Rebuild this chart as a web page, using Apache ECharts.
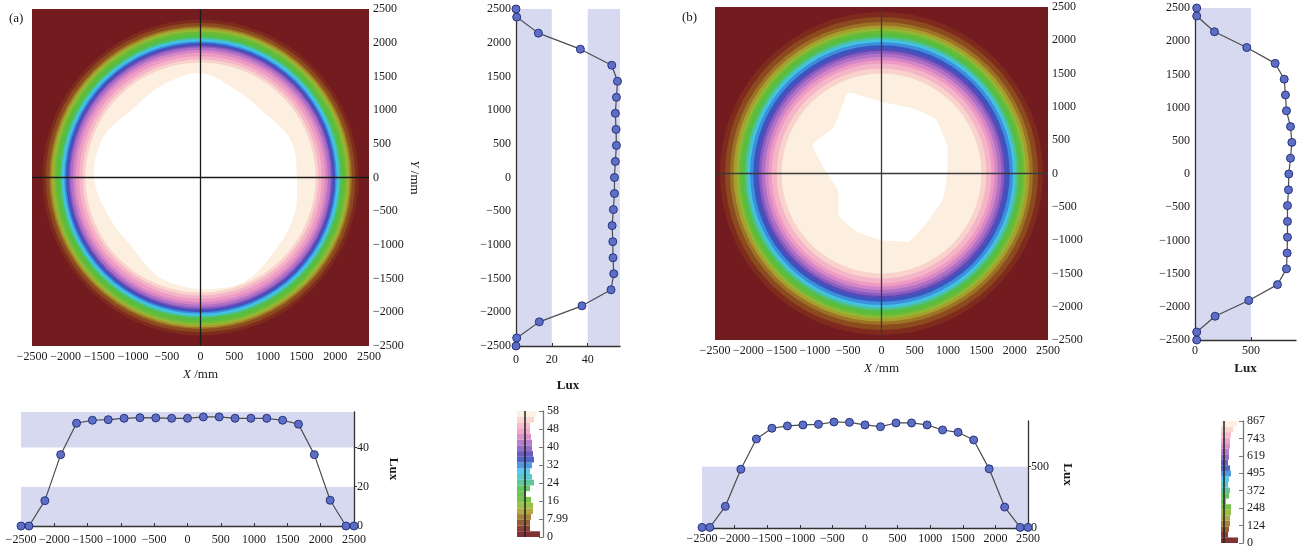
<!DOCTYPE html>
<html><head><meta charset="utf-8">
<script src="https://cdn.jsdelivr.net/npm/echarts@6/dist/echarts.min.js"></script>
<style>html,body{margin:0;padding:0;background:#fff}#c{width:1298px;height:555px}</style>
</head><body><div id="c"></div>
<script>
// ---------- data ----------
const positions = [-2500,-2380,-2142,-1904,-1666,-1428,-1190,-952,-714,-476,-238,0,238,476,714,952,1190,1428,1666,1904,2142,2380,2500];
// (a) profile along X (bottom chart), Lux
const hProfileA = [0,0,12.9,36.3,52.3,53.8,54.1,54.8,55.1,55.0,54.8,54.8,55.5,55.5,54.8,54.8,54.8,53.8,51.8,36.3,13.1,0,0];
// (a) profile along Y (right chart), Lux, Y ascending
const vProfileA = [0,0.4,13.0,36.8,53.0,54.5,54.1,54.0,53.6,54.3,54.9,54.9,55.4,56.0,55.8,55.4,56.0,56.6,53.4,35.9,12.5,0.4,0];
// (b)
const hProfileB = [5,5,176,478,724,811,830,838,843,862,859,838,824,854,854,838,797,778,716,481,170,5,5];
const vProfileB = [15,15,179,479,735,815,821,824,824,824,833,836,851,863,851,815,806,795,714,461,173,15,15];

// colour-bar tick labels and histogram lengths (bottom level -> top level)
const cbLabelsA = ['0','7.99','16','24','32','40','48','58'];
const cbLabelsB = ['0','124','248','372','495','619','743','867'];
const cbCountsA = [23,13,13,14,16,16,14,9,13,17,15,13,15,17,16,15,15,14,13,13,17,19];
const cbCountsB = [17,7,8,9,9,10,10,5,8,9,7,8,10,9,7,8,8,9,9,10,12,16];

// contour radii (mm) where each illuminance level begins (level 1 .. 21)
const ringRadiiA = [2345,2296,2247,2222,2196,2166,2137,2107,2078,2063,2048,2023,1998,1974,1950,1929,1890,1850,1800,1750,1707];
const ringRadiiB = [2425,2350,2275,2223,2177,2145,2113,2082,2050,2024,2000,1975,1925,1875,1840,1800,1750,1700,1650,1575,1500];
// outline of the brightest (white) zone: radius (mm) at each direction (deg)
const blobAngles = [0,22.5,45,67.5,90,112.5,135,157.5,180,202.5,225,247.5,270,292.5,315,337.5];
const whiteRadiiA = [1430,1450,1350,1400,1550,1480,1430,1560,1580,1480,1450,1600,1650,1680,1550,1500];
const whiteRadiiB = [986,1070,1150,1075,1075,1310,1000,1120,815,700,900,950,1000,1100,1000,1000];

// ---------- styles ----------
const palette = ['#721c1f','#7e2b1d','#8b4b1f','#9c7326','#a79e2d','#90b935','#6dbb38','#5bbd3c','#52bf4c','#4fc190','#48c1c4','#41c4ea','#3d8edb','#3b55c0','#5c4ab6','#8a5ec0','#b070c6','#d586c7','#ee9bc4','#f5b5c8','#f9d2cc','#fcefe0'];
const F = 'Liberation Serif';
const TXT = '#1a1a1a';
const LAV = '#d6d9ef';
const minus = v => String(v).replace('-', '\u2212');
const lbl = (extra) => Object.assign({color: TXT, fontFamily: F, fontSize: 12, formatter: minus}, extra || {});
const axLine = {show:true, onZero:false, lineStyle:{color:'#333', width:1.3}};

function heatX(grid, nameGap){
  return {gridIndex: grid, type:'value', min:-2500, max:2500, interval:500,
    axisLine:{show:false, onZero:false}, axisTick:{show:false}, splitLine:{show:false},
    axisLabel: lbl({margin:5}),
    name:'{i|X} /mm', nameLocation:'middle', nameGap: nameGap,
    nameTextStyle:{color:TXT, fontFamily:F, fontSize:13, rich:{i:{fontStyle:'italic', fontFamily:F, fontSize:13, color:TXT}}}};
}
function heatY(grid, pad){
  return {gridIndex: grid, type:'value', position:'right', min:-2500, max:2500, interval:500,
    axisLine:{show:false, onZero:false}, axisTick:{show:false}, splitLine:{show:false},
    axisLabel: lbl({margin:4}),
    name:'{i|Y} /mm', nameLocation:'middle', nameGap: 44, nameRotate: -90,
    nameTextStyle:{color:TXT, fontFamily:F, fontSize:13, padding:pad, rich:{i:{fontStyle:'italic', fontFamily:F, fontSize:13, color:TXT}}}};
}
function ringSeries(xi, yi, radii){
  return {type:'custom', xAxisIndex:xi, yAxisIndex:yi, silent:true, clip:true, z:1,
    data: radii.map((r,i)=>[i+1, r]),
    renderItem:(p, api)=>{
      const lvl = api.value(0), r = api.value(1);
      const c = api.coord([0,0]), e = api.coord([r,0]);
      return {type:'circle', shape:{cx:c[0], cy:c[1], r:e[0]-c[0]}, style:{fill:palette[lvl]}};
    }};
}
function blobSeries(xi, yi, radii, smooth){
  return {type:'custom', xAxisIndex:xi, yAxisIndex:yi, silent:true, clip:true, z:2,
    data: radii.map((r,i)=>[blobAngles[i], r]),
    renderItem:(p, api)=>{
      if (p.dataIndex !== 0) return null;
      const pts = radii.map((r,i)=>{const a = blobAngles[i]*Math.PI/180; return api.coord([r*Math.cos(a), r*Math.sin(a)]);});
      return {type:'polygon', shape:{points:pts, smooth:smooth}, style:{fill:'#ffffff'}};
    }};
}
function crossSeries(xi, yi, col){
  return {type:'line', xAxisIndex:xi, yAxisIndex:yi, data:[[0,0]], showSymbol:false, silent:true, z:5,
    lineStyle:{width:0},
    markLine:{symbol:'none', silent:true, label:{show:false}, animation:false,
      lineStyle:{color:col, width:1.3, type:'solid'}, data:[{xAxis:0},{yAxis:0}]}};
}
const markerStyle = {color:'#5d6ec6', borderColor:'#28337a', borderWidth:1};
function profSeries(xi, yi, data){
  return {type:'line', xAxisIndex:xi, yAxisIndex:yi, data:data, symbol:'circle', symbolSize:8,
    lineStyle:{color:'#4d4d4d', width:1.2}, itemStyle:markerStyle, z:3, clip:false};
}
function cbSeries(xi, yi, counts, lineAt){
  return {type:'bar', xAxisIndex:xi, yAxisIndex:yi, barCategoryGap:'0%', silent:true,
    data: counts.map((v,i)=>({value:v, itemStyle:{color:palette[i], opacity:0.9}})),
    markLine:{symbol:'none', silent:true, label:{show:false}, animation:false,
      lineStyle:{color:'#222', width:1.5, type:'solid'}, data:[{xAxis:lineAt}]}};
}

const option = {
  animation:false,
  textStyle:{fontFamily:F},
  title:[
    {text:'(a)', left:4, top:7, textStyle:{fontFamily:F, fontSize:13, fontWeight:'normal', color:TXT}},
    {text:'(b)', left:677, top:6, textStyle:{fontFamily:F, fontSize:13, fontWeight:'normal', color:TXT}}
  ],
  grid:[
    {left:32, top:9, width:337, height:337, show:true, backgroundColor:palette[0], borderWidth:0},
    {left:516, top:9, width:104, height:337},
    {left:21, top:412, width:333, height:114},
    {left:517, top:411, width:26, height:126},
    {left:715, top:7, width:333, height:333, show:true, backgroundColor:palette[0], borderWidth:0},
    {left:1195, top:8, width:101, height:332},
    {left:702, top:421, width:326, height:107},
    {left:1221, top:421, width:22, height:122}
  ],
  xAxis:[
    heatX(0, 19),
    {gridIndex:1, type:'value', min:0, max:58, interval:20,
      axisLine:axLine, axisTick:{show:true, inside:true, length:3, lineStyle:{color:'#333'}},
      splitLine:{show:false}, splitArea:{show:true, areaStyle:{color:[LAV,'#ffffff']}},
      axisLabel: lbl({margin:8, showMaxLabel:false}),
      name:'Lux', nameLocation:'middle', nameGap:33, nameTextStyle:{color:TXT, fontFamily:F, fontSize:13, fontWeight:'bold'}},
    {gridIndex:2, type:'value', min:-2500, max:2500, interval:500,
      axisLine:axLine, axisTick:{show:true, inside:true, length:3, lineStyle:{color:'#333'}},
      splitLine:{show:false}, axisLabel: lbl({margin:8})},
    {gridIndex:3, type:'value', min:0, max:26, show:false},
    heatX(4, 17),
    {gridIndex:5, type:'value', min:0, max:900, interval:500,
      axisLine:axLine, axisTick:{show:true, inside:true, length:3, lineStyle:{color:'#333'}},
      splitLine:{show:false}, splitArea:{show:true, areaStyle:{color:[LAV,'#ffffff']}},
      axisLabel: lbl({margin:5, showMaxLabel:false}),
      name:'Lux', nameLocation:'middle', nameGap:18, nameTextStyle:{color:TXT, fontFamily:F, fontSize:13, fontWeight:'bold'}},
    {gridIndex:6, type:'value', min:-2500, max:2500, interval:500,
      axisLine:axLine, axisTick:{show:true, inside:true, length:3, lineStyle:{color:'#333'}},
      splitLine:{show:false}, axisLabel: lbl({margin:5})},
    {gridIndex:7, type:'value', min:0, max:22, show:false}
  ],
  yAxis:[
    heatY(0, [0,0,-30,0]),
    {gridIndex:1, type:'value', min:-2500, max:2500, interval:500,
      axisLine:axLine, axisTick:{show:false},
      splitLine:{show:false}, axisLabel: lbl({margin:5})},
    {gridIndex:2, type:'value', position:'right', min:0, max:58, interval:20,
      axisLine:axLine, axisTick:{show:true, length:3, lineStyle:{color:'#333'}},
      splitLine:{show:false}, splitArea:{show:true, areaStyle:{color:[LAV,'#ffffff']}},
      axisLabel: lbl({margin:3, showMaxLabel:false}),
      name:'Lux', nameLocation:'middle', nameGap:33, nameRotate:-90, nameTextStyle:{color:TXT, fontFamily:F, fontSize:13, fontWeight:'bold'}},
    {gridIndex:3, type:'category', data:cbCountsA.map((v,i)=>i), show:false},
    {gridIndex:3, type:'value', position:'right', min:0, max:7, interval:1,
      axisLine:{show:true, onZero:false, lineStyle:{color:'#777', width:1.3}}, axisTick:{show:true, inside:true, length:4, lineStyle:{color:'#777'}},
      splitLine:{show:false}, axisLabel:{color:TXT, fontFamily:F, fontSize:12, margin:4, formatter:v=>cbLabelsA[v]}},
    heatY(4, [0,0,-70,0]),
    {gridIndex:5, type:'value', min:-2500, max:2500, interval:500,
      axisLine:axLine, axisTick:{show:false},
      splitLine:{show:false}, axisLabel: lbl({margin:5})},
    {gridIndex:6, type:'value', position:'right', min:0, max:870, interval:500,
      axisLine:axLine, axisTick:{show:true, length:3, lineStyle:{color:'#333'}},
      splitLine:{show:false}, splitArea:{show:true, areaStyle:{color:[LAV,'#ffffff']}},
      axisLabel: lbl({margin:3, showMaxLabel:false}),
      name:'Lux', nameLocation:'middle', nameGap:33, nameRotate:-90, nameTextStyle:{color:TXT, fontFamily:F, fontSize:13, fontWeight:'bold'}},
    {gridIndex:7, type:'category', data:cbCountsB.map((v,i)=>i), show:false},
    {gridIndex:7, type:'value', position:'right', min:0, max:7, interval:1,
      axisLine:{show:true, onZero:false, lineStyle:{color:'#777', width:1.3}}, axisTick:{show:true, inside:true, length:4, lineStyle:{color:'#777'}},
      splitLine:{show:false}, axisLabel:{color:TXT, fontFamily:F, fontSize:12, margin:4, formatter:v=>cbLabelsB[v]}}
  ],
  series:[
    ringSeries(0, 0, ringRadiiA),
    blobSeries(0, 0, whiteRadiiA, 0.35),
    crossSeries(0, 0, '#1a1a1a'),
    profSeries(1, 1, positions.map((p,i)=>[vProfileA[i], p])),
    profSeries(2, 2, positions.map((p,i)=>[p, hProfileA[i]])),
    cbSeries(3, 3, cbCountsA, 8),
    ringSeries(4, 5, ringRadiiB),
    blobSeries(4, 5, whiteRadiiB, 0.12),
    crossSeries(4, 5, '#3a3a3a'),
    profSeries(5, 6, positions.map((p,i)=>[vProfileB[i], p])),
    profSeries(6, 7, positions.map((p,i)=>[p, hProfileB[i]])),
    cbSeries(7, 8, cbCountsB, 3)
  ]
};
echarts.init(document.getElementById('c'), null, {renderer:'canvas'}).setOption(option);
</script>
</body></html>
